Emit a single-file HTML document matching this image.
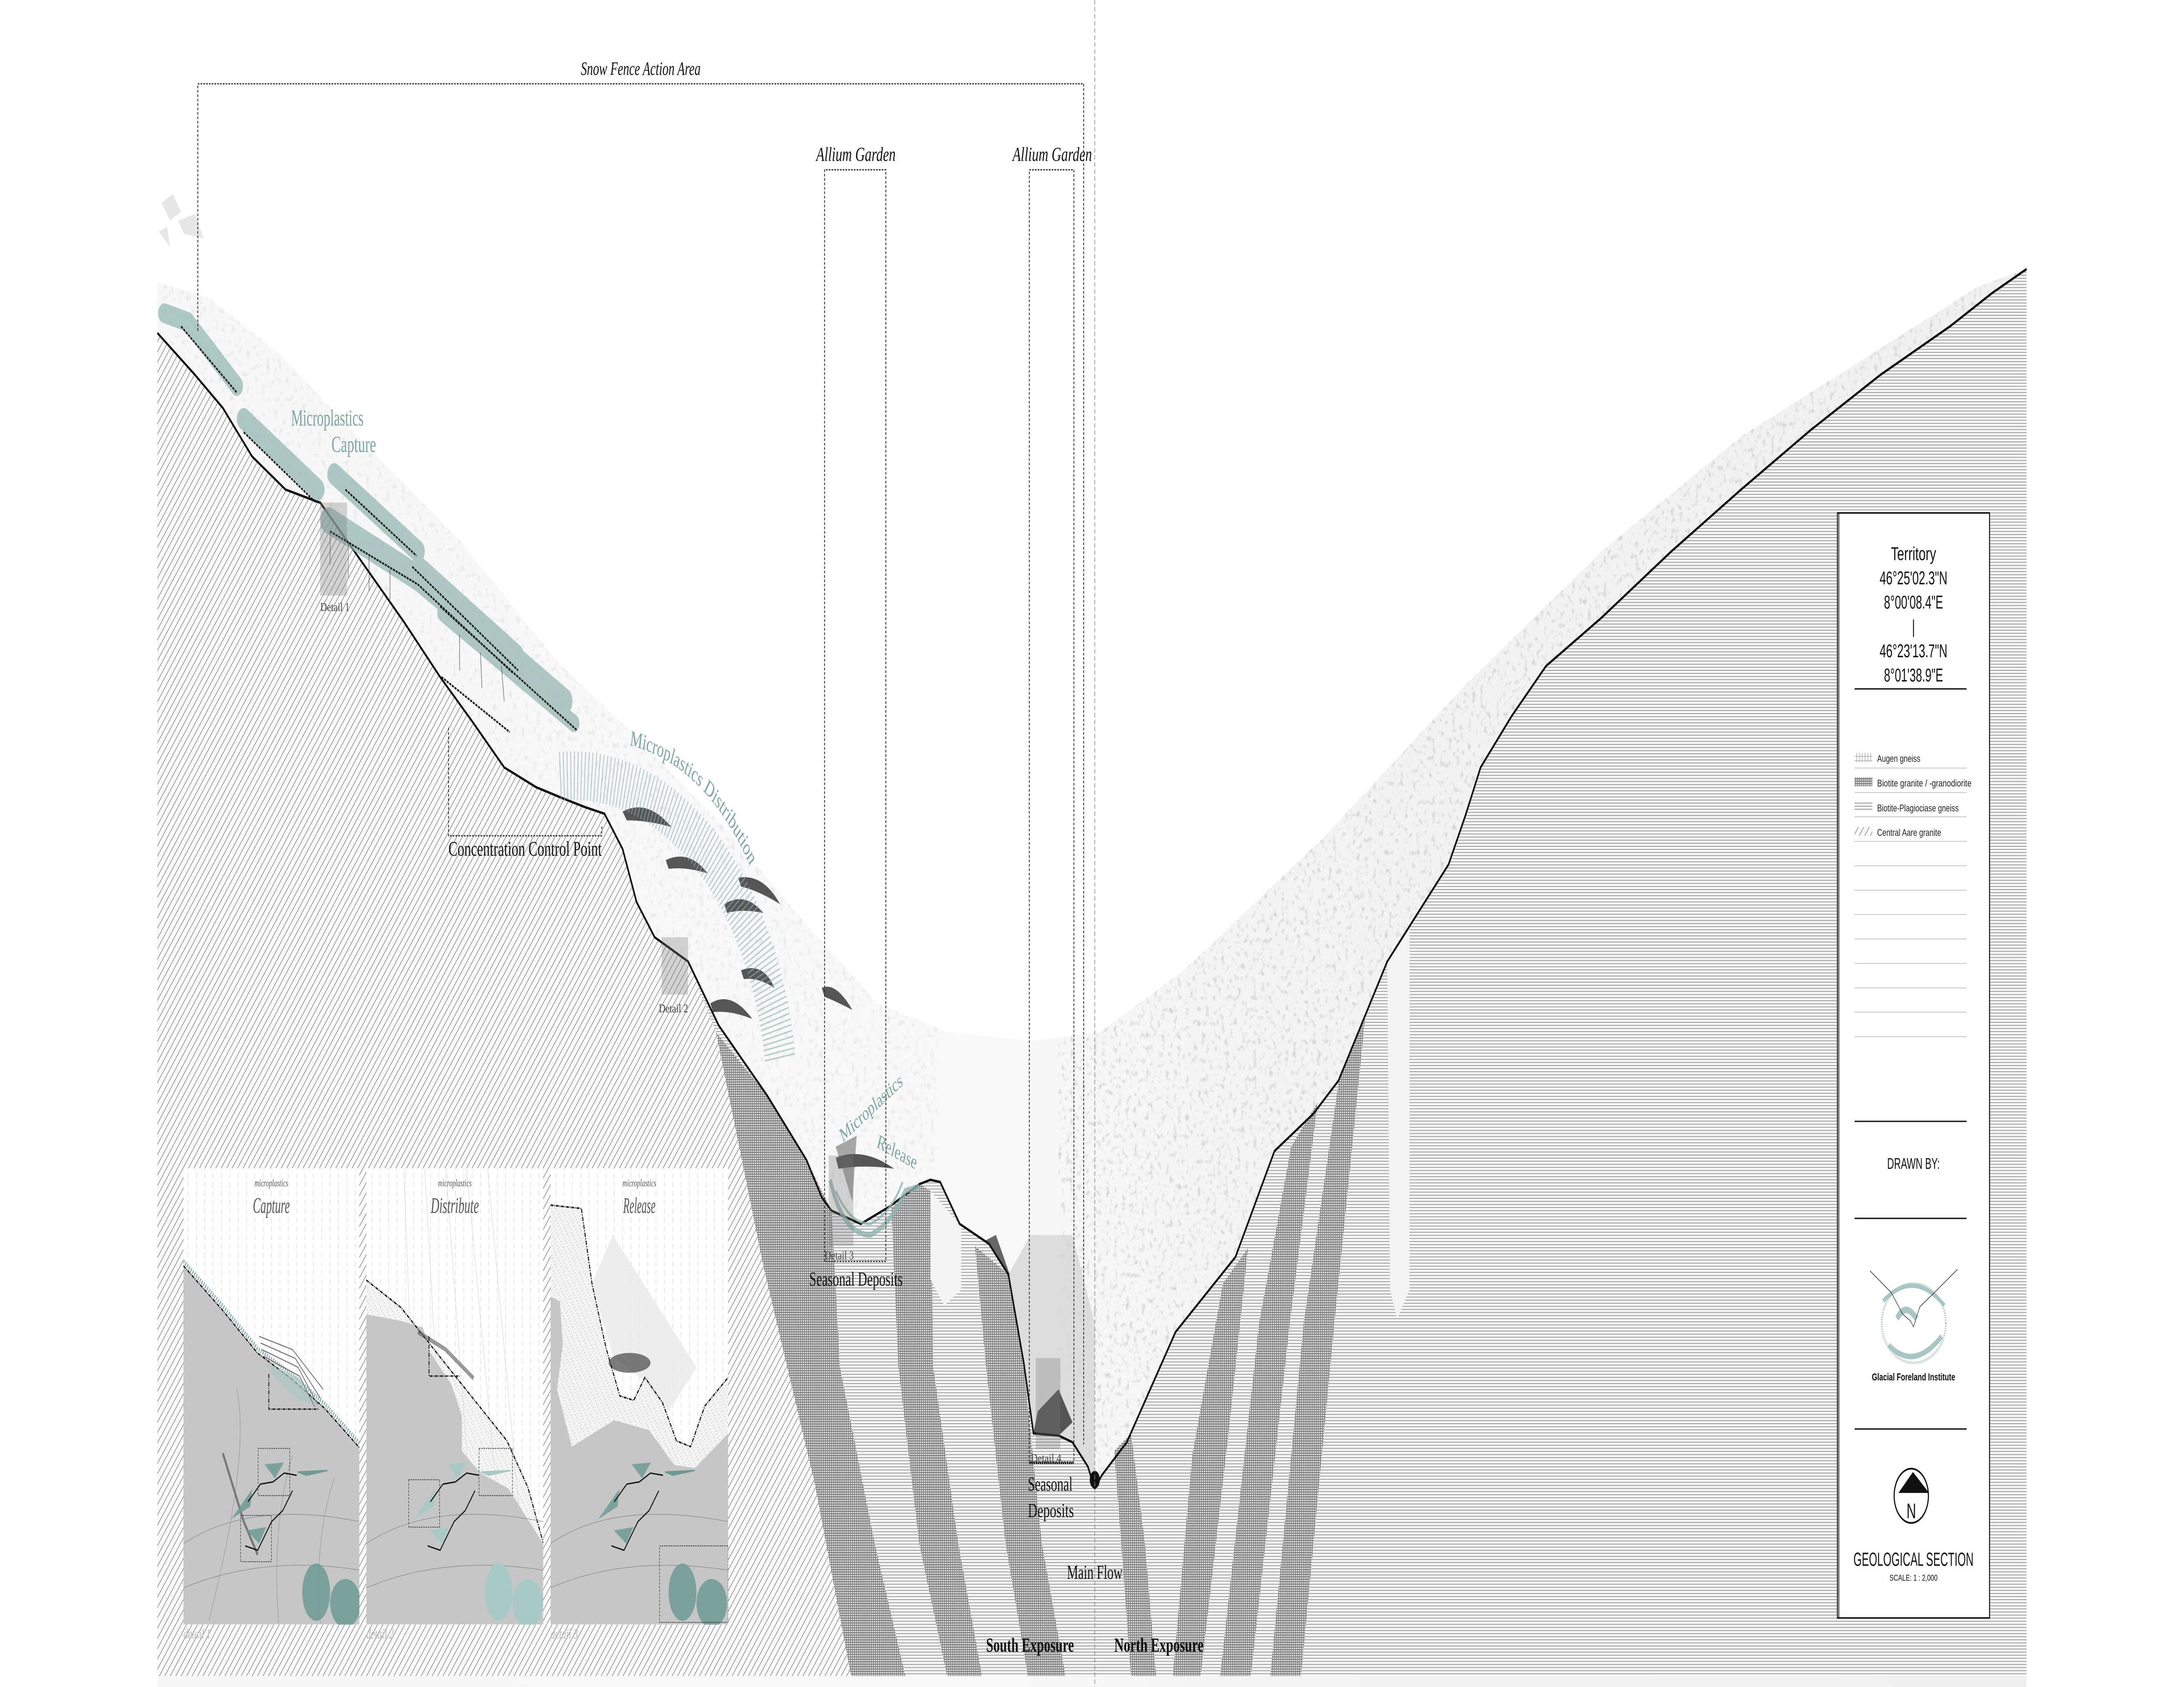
<!DOCTYPE html>
<html><head><meta charset="utf-8"><style>html,body{margin:0;padding:0;background:#fff;width:100%;height:100%;overflow:hidden}svg{display:block;width:100vw;height:100vh}</style></head>
<body>
<svg xmlns="http://www.w3.org/2000/svg" viewBox="0 0 1568 765" preserveAspectRatio="none">
<defs>
<pattern id="hatch" width="3" height="3" patternUnits="userSpaceOnUse" patternTransform="rotate(40)">
<rect width="3" height="3" fill="#fafafa"/><line x1="0" y1="0" x2="0" y2="3" stroke="#6a6a6a" stroke-width="0.6"/></pattern>
<pattern id="hl" width="4" height="1.4" patternUnits="userSpaceOnUse">
<rect width="4" height="1.4" fill="#f7f7f7"/><rect y="0" width="4" height="0.38" fill="#9a9a9a"/></pattern>
<pattern id="grid" width="1.5" height="1.1" patternUnits="userSpaceOnUse">
<rect width="1.5" height="1.1" fill="#7d7d7d"/><rect x="0.3" y="0.3" width="1.0" height="0.6" fill="#ececec"/></pattern>
<pattern id="aug" width="2" height="2" patternUnits="userSpaceOnUse">
<rect width="2" height="2" fill="#fff"/><line x1="1" y1="0" x2="1" y2="2" stroke="#888" stroke-width="0.3"/><line x1="0" y1="1" x2="2" y2="1" stroke="#888" stroke-width="0.2"/></pattern>
<pattern id="vd" width="6" height="4" patternUnits="userSpaceOnUse">
<rect width="6" height="4" fill="#fff"/><line x1="3" y1="0" x2="3" y2="2.4" stroke="#c8c8c8" stroke-width="0.25"/></pattern>
<pattern id="pl" width="3" height="1.6" patternUnits="userSpaceOnUse" patternTransform="rotate(-35)">
<rect width="3" height="1.6" fill="#f2f2f2"/><line x1="0" y1="0.8" x2="1.6" y2="0.8" stroke="#b0b0b0" stroke-width="0.2"/></pattern>
<linearGradient id="terr" x1="0" y1="0" x2="1" y2="0">
<stop offset="0" stop-color="#f7f7f7"/><stop offset="0.45" stop-color="#f8f8f8"/><stop offset="0.6" stop-color="#f3f3f3"/><stop offset="1" stop-color="#f0f0f0"/></linearGradient>
<filter id="noise" x="0" y="0" width="100%" height="100%">
<feTurbulence type="fractalNoise" baseFrequency="0.35" numOctaves="2" seed="4"/>
<feColorMatrix type="matrix" values="0 0 0 0 0.35  0 0 0 0 0.35  0 0 0 0 0.35  3.2 0 0 0 -1.75"/></filter>
<clipPath id="terrClip"><path d="M113,128 L150,135 L200,160 L260,200 L330,245 L400,300 L450,330 L520,375 L580,420 L630,455 L680,468 L740,472 L790,468 L850,440 L950,380 L1050,312 L1150,250 L1250,198 L1350,158 L1420,130 L1455,122 L1455,765 L113,765 Z"/></clipPath>
<clipPath id="p1"><rect x="131.7" y="529.7" width="126.3" height="207"/></clipPath>
<clipPath id="p2"><rect x="263" y="529.7" width="127" height="207"/></clipPath>
<clipPath id="p3"><rect x="395.3" y="529.7" width="127.5" height="207"/></clipPath>
<path id="distArc" d="M452,338 A125,125 0 0 1 548,410"/>
</defs>

<rect width="1568" height="765" fill="#fff"/>

<g fill="#e6e6e6"><path d="M116,92 L124,88 L130,96 L122,100Z"/><path d="M128,100 L140,97 L146,108 L132,106Z"/><path d="M114,105 L120,103 L122,112Z"/></g>

<path d="M113,128 L150,135 L200,160 L260,200 L330,245 L400,300 L450,330 L520,375 L580,420 L630,455 L680,468 L740,472 L790,468 L850,440 L950,380 L1050,312 L1150,250 L1250,198 L1350,158 L1420,130 L1455,122 L1455,765 L113,765 Z" fill="url(#terr)"/>
<g clip-path="url(#terrClip)">
<rect x="760" y="110" width="700" height="600" filter="url(#noise)" opacity="0.4"/>
<rect x="113" y="110" width="560" height="450" filter="url(#noise)" opacity="0.18"/>
</g>
<path d="M724,578 L735,618 L742,650 L760,651 L770,654 L781,665 L786,675 L786,600 L770,560 L740,560Z" fill="#d6d6d6" opacity="0.8"/>
<path d="M745,640 L760,630 L770,645 L760,651 L742,650Z" fill="#555"/>
<path d="M700,565 L715,560 L725,578 L712,572Z" fill="#666"/>

<path d="M113,151 L140,170 L160,185 L181,207 L205,222 L230,228 L260,255 L290,282 L316,307 L340,328 L362,348 L385,357 L404,362 L420,366 L434,369 L447,385 L457,409 L470,425 L494,436 L516,465 L551,497 L579,526 L590,543 L597,549 L618,555 L639,547 L660,537 L668,535 L675,536 L689,555 L710,564 L724,578 L735,618 L742,650 L760,651 L770,654 L781,665 L786,675 L791,669 L809,654 L844,604 L887,570 L915,522 L943,505 L961,490 L996,436 L1020,412 L1040,392 L1052,370 L1063,348 L1085,325 L1110,302 L1150,280 L1200,250 L1250,222 L1300,195 L1350,170 L1400,148 L1430,133 L1455,122 L1455,760 L113,760 Z" fill="url(#hl)"/>
<g fill="url(#grid)">
<path d="M514,468 L551,497 L579,526 L597,549 L603,620 L628,700 L650,760 L611,760 L585,673 L548,574Z"/>
<path d="M640,548 L660,537 L668,540 L670,620 L688,700 L705,760 L680,760 L660,700 L645,620Z"/>
<path d="M700,565 L724,578 L735,620 L748,700 L765,760 L738,760 L722,700 L708,620Z"/>
<path d="M800,658 L812,650 L822,700 L830,760 L812,760 L805,700Z"/>
<path d="M878,582 L896,566 L882,650 L862,760 L842,760 L856,660Z"/>
<path d="M927,520 L946,500 L926,600 L898,760 L876,760 L904,600Z"/>
<path d="M962,487 L980,462 L958,600 L934,760 L912,760 L936,600Z"/>
</g>
<path d="M668,540 L690,556 L690,585 L678,592 L668,580Z" fill="#f4f4f4"/>
<path d="M996,436 L1012,420 L1012,585 L1003,598 L998,585Z" fill="#f3f3f3"/>
<path d="M113,151 L140,170 L160,185 L181,207 L205,222 L230,228 L260,255 L290,282 L316,307 L340,328 L362,348 L385,357 L404,362 L420,366 L434,369 L447,385 L457,409 L470,425 L494,436 L514,468 L548,574 L585,673 L611,760 L113,760 Z" fill="url(#hatch)"/>

<path d="M113,151 L140,170 L160,185 L181,207 L205,222 L230,228 L260,255 L290,282 L316,307 L340,328 L362,348 L385,357 L404,362 L420,366 L434,369 L447,385 L457,409 L470,425 L494,436 L516,465 L551,497 L579,526 L590,543 L597,549 L618,555 L639,547 L660,537 L668,535 L675,536 L689,555 L710,564 L724,578 L735,618 L742,650 L760,651 L770,654 L781,665 L786,675 L791,669 L809,654 L844,604 L887,570 L915,522 L943,505 L961,490 L996,436 L1020,412 L1040,392 L1052,370 L1063,348 L1085,325 L1110,302 L1150,280 L1200,250 L1250,222 L1300,195 L1350,170 L1400,148 L1430,133 L1455,122" fill="none" stroke="#111" stroke-width="1.1" stroke-linejoin="round"/>
<ellipse cx="786" cy="671" rx="3.6" ry="4" fill="#111"/>

<g stroke="#8fb3ae" stroke-linecap="round" fill="none" opacity="0.7">
<path d="M118,142 L135,146 L170,175" stroke-width="9"/>
<path d="M175,190 L228,222" stroke-width="10"/>
<path d="M240,215 L300,250" stroke-width="10"/>
<path d="M236,236 L300,262 L372,300 L405,318" stroke-width="12"/>
<path d="M300,255 L372,296" stroke-width="7"/>
<path d="M318,278 L412,328" stroke-width="8"/>
</g>
<g stroke="#1a1a1a" stroke-width="0.9" fill="none" stroke-dasharray="1.5 0.6">
<path d="M130,148 L170,178"/><path d="M175,196 L227,228"/><path d="M248,222 L299,252"/>
<path d="M237,241 L300,265 L368,305"/><path d="M296,257 L372,304"/><path d="M316,275 L414,331"/><path d="M317,307 L366,332"/>
</g>
<g stroke="#333" stroke-width="0.4" fill="none" opacity="0.7">
<path d="M237,241 L237,256 M250,246 L250,262 M265,252 L265,268 M280,258 L280,272 M330,288 L330,304 M345,296 L346,312 M360,302 L362,318"/>
</g>
<g fill="#3a3a3a" opacity="0.85">
<path d="M447,368 Q465,362 482,375 Q465,372 450,372Z"/>
<path d="M478,390 Q495,385 508,396 Q492,393 480,394Z"/>
<path d="M530,398 Q548,396 560,410 Q545,404 532,402Z"/>
<path d="M520,410 Q535,404 548,414 Q533,412 522,414Z"/>
<path d="M532,440 Q548,436 556,448 Q544,443 534,444Z"/>
<path d="M510,455 Q525,449 540,462 Q524,458 512,459Z"/>
<path d="M590,448 Q600,445 612,458 Q600,454 592,452Z"/>
<path d="M600,525 Q620,520 642,530 Q620,528 602,530Z"/>
<path d="M600,520 L615,515 L612,545 Z" opacity="0.5"/>
</g>
<path d="M402,352 A150,150 0 0 1 560,480" fill="none" stroke="#8fb3ae" stroke-width="22" stroke-dasharray="0.7 1.8" opacity="0.6"/>
<path d="M596,535 Q605,560 625,560 Q640,555 650,540 L660,538" fill="none" stroke="#8fb3ae" stroke-width="2.5" opacity="0.8"/>
<path d="M600,540 Q610,555 625,555 Q640,550 648,536" fill="none" stroke="#8fb3ae" stroke-width="1.2" opacity="0.8"/>

<rect x="230" y="228" width="19" height="42" fill="#777" opacity="0.3" stroke="#888" stroke-width="0.3"/>
<rect x="475" y="425" width="19" height="26" fill="#777" opacity="0.3"/>
<rect x="595" y="524" width="17.7" height="41" fill="#777" opacity="0.3"/>
<rect x="743.6" y="615.8" width="17.7" height="41.4" fill="#777" opacity="0.3"/>

<g fill="none" stroke="#222" stroke-width="0.55" stroke-dasharray="1.2 0.8">
<path d="M142,150 L142,38 L778,38 L778,655"/>
<path d="M592,572 L592,77 L636,77 L636,572 L592,572"/>
<path d="M739,663 L739,77 L771,77 L771,663 L739,663"/>
<path d="M322,330 L322,379 L432,379 L432,374"/>
</g>
<path d="M739,663.5 L771,663.5" stroke="#111" stroke-width="0.9" stroke-dasharray="1 0.5"/>
<line x1="786" y1="0" x2="786" y2="765" stroke="#888" stroke-width="0.45" stroke-dasharray="2 1.2"/>

<g font-family="'Liberation Serif', serif" fill="#111">
<text x="417" y="34" font-size="8.5" font-style="italic" textLength="86" lengthAdjust="spacingAndGlyphs">Snow Fence Action Area</text>
<text x="586" y="73" font-size="9" font-style="italic" textLength="57" lengthAdjust="spacingAndGlyphs">Allium Garden</text>
<text x="727" y="73" font-size="9" font-style="italic" textLength="57" lengthAdjust="spacingAndGlyphs">Allium Garden</text>
<text x="230" y="277" font-size="5.5" fill="#444" textLength="21" lengthAdjust="spacingAndGlyphs">Detail 1</text>
<text x="322" y="388" font-size="9.5" textLength="110" lengthAdjust="spacingAndGlyphs">Concentration Control Point</text>
<text x="473" y="459" font-size="5.5" fill="#444" textLength="21" lengthAdjust="spacingAndGlyphs">Detail 2</text>
<text x="592" y="571" font-size="5.5" fill="#444" textLength="21" lengthAdjust="spacingAndGlyphs">Detail 3</text>
<text x="581" y="583" font-size="9" textLength="67" lengthAdjust="spacingAndGlyphs">Seasonal Deposits</text>
<text x="740" y="663" font-size="5.5" fill="#444" textLength="22" lengthAdjust="spacingAndGlyphs">Detail 4</text>
<text x="738" y="676" font-size="9" textLength="32" lengthAdjust="spacingAndGlyphs">Seasonal</text>
<text x="738" y="688" font-size="9" textLength="33" lengthAdjust="spacingAndGlyphs">Deposits</text>
<text x="766" y="716" font-size="9" textLength="40" lengthAdjust="spacingAndGlyphs">Main Flow</text>
<text x="708" y="749" font-size="9" font-weight="bold" textLength="63" lengthAdjust="spacingAndGlyphs">South Exposure</text>
<text x="800" y="749" font-size="9" font-weight="bold" textLength="64" lengthAdjust="spacingAndGlyphs">North Exposure</text>
</g>
<g font-family="'Liberation Serif', serif" fill="#7fa5a0">
<text x="209" y="193" font-size="10.5" textLength="52" lengthAdjust="spacingAndGlyphs">Microplastics</text>
<text x="238" y="205" font-size="10.5" textLength="32" lengthAdjust="spacingAndGlyphs">Capture</text>
<text font-size="10"><textPath href="#distArc">Microplastics Distribution</textPath></text>
<text x="605" y="518" font-size="9" transform="rotate(-31 605 518)" textLength="51" lengthAdjust="spacingAndGlyphs">Microplastics</text>
<text x="629" y="520" font-size="9" transform="rotate(20 629 520)" textLength="30" lengthAdjust="spacingAndGlyphs">Release</text>
</g>

<g clip-path="url(#p1)">
<rect x="131.7" y="529.7" width="126.3" height="207" fill="url(#vd)"/>
<path d="M131.7,574 L159.6,594 L184.8,613.5 L210,625.6 L233,638.6 L258,656.4 L258,736.6 L131.7,736.6Z" fill="#c6c6c6"/>
<path d="M131.7,574 L159.6,594 L184.8,613.5 L210,625.6 L233,638.6 L258,656.4" fill="none" stroke="#8fb3ae" stroke-width="2" stroke-dasharray="0.8 0.8" transform="translate(0,-2)"/>
<path d="M131.7,574 L159.6,594 L184.8,613.5 L210,625.6 L233,638.6 L258,656.4" fill="none" stroke="#111" stroke-width="0.7" stroke-dasharray="2 0.6 0.5 0.6"/>
<path d="M193,623 L193,639 L229,639" fill="none" stroke="#111" stroke-width="0.6" stroke-dasharray="2 0.6 0.5 0.6"/>
<g stroke="#777" stroke-width="0.5" fill="none"><path d="M186,606 L210,612 L232,630"/><path d="M187,609 L212,616 L230,634"/><path d="M188,612 L214,620 L228,637"/><path d="M189,615 L215,624 L226,638"/></g>
<path d="M190,618 Q200,628 215,635 L225,637 L215,625Z" fill="#a9c6c2" opacity="0.7"/>
<g stroke="#888" stroke-width="0.25" fill="none"><path d="M131.7,700 Q180,680 258,690"/><path d="M131.7,720 Q190,705 258,712"/><path d="M150,735 Q180,660 170,630"/><path d="M200,736 Q195,690 210,660"/><path d="M230,736 Q225,700 240,670"/></g>
<path d="M160,659 L175,690 L185,705" stroke="#777" stroke-width="1.4" fill="none"/>
<polygon points="189.9,664 203.7,663.2 197.4,670.4" fill="#6e9994" opacity="0.85"/>
<polygon points="177.2,694 191.1,692.5 186,700" fill="#6e9994" opacity="0.85"/>
<polygon points="165.9,688.9 181,675.3 179.7,683.2" fill="#6e9994" opacity="0.85"/>
<polygon points="213.8,667.5 235.3,666.8 220,669" fill="#6e9994" stroke="#6e9994" stroke-width="0.6"/>
<ellipse cx="227" cy="722" rx="10" ry="13" fill="#6e9994" opacity="0.85"/><ellipse cx="248" cy="727" rx="11" ry="11" fill="#6e9994" opacity="0.85"/>
<polyline points="178,681 187,673 196,672 204,668 213,669" fill="none" stroke="#111" stroke-width="0.6"/>
<polyline points="176,701 185,703 195,690 203,685 210,676" fill="none" stroke="#111" stroke-width="0.6"/>
<g fill="none" stroke="#333" stroke-width="0.35" stroke-dasharray="1 0.6"><rect x="185.3" y="656.8" width="22.7" height="21.4"/><rect x="172.7" y="687.2" width="22.2" height="21"/></g>
</g>
<g clip-path="url(#p2)">
<rect x="263" y="529.7" width="127" height="207" fill="url(#vd)"/>
<path d="M263,580 L288,593 L318.6,617.5 L344,637.6 L364,653.4 L379,674.5 L390,699.6 L390,736.6 L330,736.6 L300,650 L263,620Z" fill="url(#pl)" opacity="0.8"/>
<path d="M263,596 L288,599 L303.6,602 L308.6,613 L324,627.7 L331.6,642 L331.6,658 L345,668 L365,675 L380,690 L390,700 L390,736.6 L263,736.6Z" fill="#c6c6c6"/>
<g stroke="#ccc" stroke-width="0.25"><path d="M290,530 L300,700 M305,530 L320,700 M320,530 L340,700 M335,530 L360,700 M350,530 L375,700"/></g>
<path d="M263,580.5 L288,593 L318.6,617.5 L344,637.6 L364,653.4 L379,674.5 L390,699.6" fill="none" stroke="#111" stroke-width="0.7" stroke-dasharray="2 0.6 0.5 0.6"/>
<path d="M300,604 L320,612 L340,625" stroke="#555" stroke-width="2" fill="none" opacity="0.6"/>
<path d="M308,606 L308,624 L330,624" fill="none" stroke="#111" stroke-width="0.6" stroke-dasharray="2 0.6 0.5 0.6"/>
<g stroke="#888" stroke-width="0.25" fill="none"><path d="M263,700 Q310,680 390,690"/><path d="M263,720 Q320,705 390,712"/></g>
<polygon points="321.2,664 335,663.2 328.7,670.4" fill="#a9c9c7"/>
<polygon points="308.5,694 322.4,692.5 317.3,700" fill="#a9c9c7"/>
<polygon points="297.2,688.9 312.3,675.3 311,683.2" fill="#a9c9c7"/>
<polygon points="345.1,667.5 366.6,666.8 351,669" fill="#a9c9c7" stroke="#a9c9c7" stroke-width="0.6"/>
<ellipse cx="358" cy="722" rx="10" ry="13" fill="#a9c9c7"/><ellipse cx="379" cy="727" rx="11" ry="11" fill="#a9c9c7"/>
<polyline points="309,681 318,673 327,672 335,668 344,669" fill="none" stroke="#111" stroke-width="0.6"/>
<polyline points="307,701 316,703 326,690 334,685 341,676" fill="none" stroke="#111" stroke-width="0.6"/>
<g fill="none" stroke="#333" stroke-width="0.35" stroke-dasharray="1 0.6"><rect x="343.9" y="656.8" width="24" height="21.4"/><rect x="293.4" y="671" width="22.2" height="21.5"/></g>
</g>
<g clip-path="url(#p3)">
<rect x="395.3" y="529.7" width="127.5" height="207" fill="url(#vd)"/>
<path d="M395.4,546.5 L417.4,548 L425,582 L435,611 L445,633 L455,635 L463,624.6 L475.6,636 L485.7,653.4 L495.8,656 L506,637.6 L522.8,624.6 L522.8,660 L499,675 L484,672 L466,655 L441,650 L410,662 L395.3,660Z" fill="url(#pl)" opacity="0.85"/>
<path d="M425,582 L440,560 L470,590 L500,620 L480,640 L460,625 L440,615Z" fill="#e8e8e8" opacity="0.8"/>
<path d="M395.3,588 L402,590 L404,610 L400,630 L410.5,656 L441,644 L466,648.5 L484,664.3 L499,665.7 L522.8,650 L522.8,736.6 L395.3,736.6Z" fill="#c6c6c6"/>
<ellipse cx="452" cy="618" rx="15" ry="4.5" fill="#444" opacity="0.7"/>
<path d="M395.4,546.5 L417.4,548 L425,582 L435,611 L445,633 L455,635 L463,624.6 L475.6,636 L485.7,653.4 L495.8,656 L506,637.6 L522.8,624.6" fill="none" stroke="#111" stroke-width="0.7" stroke-dasharray="2 0.6 0.5 0.6"/>
<g stroke="#888" stroke-width="0.25" fill="none"><path d="M395.3,700 Q440,680 522.8,690"/><path d="M395.3,720 Q450,705 522.8,712"/></g>
<polygon points="453.5,664 467.3,663.2 461,670.4" fill="#6e9994" opacity="0.85"/>
<polygon points="440.8,694 454.7,692.5 449.6,700" fill="#6e9994" opacity="0.85"/>
<polygon points="429.5,688.9 444.6,675.3 443.3,683.2" fill="#6e9994" opacity="0.85"/>
<polygon points="477.4,667.5 498.9,666.8 483,669" fill="#6e9994" stroke="#6e9994" stroke-width="0.6"/>
<ellipse cx="490" cy="722" rx="10" ry="13" fill="#6e9994" opacity="0.85"/><ellipse cx="511" cy="727" rx="11" ry="11" fill="#6e9994" opacity="0.85"/>
<polyline points="441,681 450,673 459,672 467,668 476,669" fill="none" stroke="#111" stroke-width="0.6"/>
<polyline points="439,701 448,703 458,690 466,685 473,676" fill="none" stroke="#111" stroke-width="0.6"/>
<rect x="473.5" y="701" width="49.3" height="34.7" fill="none" stroke="#333" stroke-width="0.35" stroke-dasharray="1 0.6"/>
</g>
<g font-family="'Liberation Serif', serif" font-style="italic" fill="#555" text-anchor="middle">
<text x="194.8" y="538" font-size="4.5">microplastics</text>
<text x="194.8" y="550" font-size="10" textLength="26.5" lengthAdjust="spacingAndGlyphs">Capture</text>
<text x="326.5" y="538" font-size="4.5">microplastics</text>
<text x="326.5" y="550" font-size="10" textLength="34.6" lengthAdjust="spacingAndGlyphs">Distribute</text>
<text x="459" y="538" font-size="4.5">microplastics</text>
<text x="459" y="550" font-size="10" textLength="23.2" lengthAdjust="spacingAndGlyphs">Release</text>
</g>
<g font-family="'Liberation Serif', serif" font-style="italic" fill="#bbb" font-size="6.5">
<text x="131.7" y="743">detail 1</text><text x="263" y="743">detail 2</text><text x="395.3" y="743">detail 3</text>
</g>

<rect x="1319.2" y="232.6" width="109.2" height="501.1" fill="#fff" stroke="#111" stroke-width="0.7"/>
<line x1="1320.2" y1="232.6" x2="1320.2" y2="733.7" stroke="#111" stroke-width="0.5"/>
<g font-family="'Liberation Sans', sans-serif" fill="#111" text-anchor="middle">
<text x="1373.8" y="254" font-size="8.4" textLength="32.4" lengthAdjust="spacingAndGlyphs">Territory</text>
<text x="1373.8" y="265" font-size="8.4" textLength="48.7" lengthAdjust="spacingAndGlyphs">46°25'02.3"N</text>
<text x="1373.8" y="276" font-size="8.4" textLength="42.4" lengthAdjust="spacingAndGlyphs">8°00'08.4"E</text>
<text x="1373.8" y="287" font-size="8.4">|</text>
<text x="1373.8" y="298" font-size="8.4" textLength="48.7" lengthAdjust="spacingAndGlyphs">46°23'13.7"N</text>
<text x="1373.8" y="309" font-size="8.4" textLength="42.4" lengthAdjust="spacingAndGlyphs">8°01'38.9"E</text>
<text x="1373.8" y="530" font-size="7" textLength="37.8" lengthAdjust="spacingAndGlyphs">DRAWN BY:</text>
<text x="1373.8" y="626" font-size="4.6" font-weight="bold" textLength="59.8" lengthAdjust="spacingAndGlyphs">Glacial Foreland Institute</text>
<text x="1372.2" y="688.5" font-size="9.5">N</text>
<text x="1373.8" y="710" font-size="8.6" textLength="86.2" lengthAdjust="spacingAndGlyphs">GEOLOGICAL SECTION</text>
<text x="1373.8" y="716.8" font-size="3.9" textLength="34.5" lengthAdjust="spacingAndGlyphs">SCALE: 1 : 2,000</text>
</g>
<line x1="1331.5" y1="312.4" x2="1411.9" y2="312.4" stroke="#111" stroke-width="0.6"/>
<g stroke="#aaa" stroke-width="0.25">
<line x1="1331.5" y1="348.3" x2="1411.9" y2="348.3"/><line x1="1331.5" y1="359.4" x2="1411.9" y2="359.4"/><line x1="1331.5" y1="370.4" x2="1411.9" y2="370.4"/><line x1="1331.5" y1="381.5" x2="1411.9" y2="381.5"/><line x1="1331.5" y1="392.6" x2="1411.9" y2="392.6"/><line x1="1331.5" y1="403.7" x2="1411.9" y2="403.7"/><line x1="1331.5" y1="414.7" x2="1411.9" y2="414.7"/><line x1="1331.5" y1="425.8" x2="1411.9" y2="425.8"/><line x1="1331.5" y1="436.9" x2="1411.9" y2="436.9"/><line x1="1331.5" y1="448" x2="1411.9" y2="448"/><line x1="1331.5" y1="459" x2="1411.9" y2="459"/><line x1="1331.5" y1="470.1" x2="1411.9" y2="470.1"/>
</g>
<rect x="1331.5" y="341.5" width="12.7" height="4" fill="url(#aug)"/>
<rect x="1331.5" y="352.5" width="12.7" height="4" fill="url(#grid)"/>
<rect x="1331.5" y="363.8" width="12.7" height="4" fill="url(#hl)"/>
<rect x="1331.5" y="375" width="12.7" height="4" fill="url(#hatch)"/>
<g font-family="'Liberation Sans', sans-serif" fill="#222" font-size="4.4">
<text x="1347.7" y="345.5" textLength="31" lengthAdjust="spacingAndGlyphs">Augen gneiss</text>
<text x="1347.7" y="356.7" textLength="67.7" lengthAdjust="spacingAndGlyphs">Biotite granite / -granodiorite</text>
<text x="1347.7" y="367.9" textLength="58.5" lengthAdjust="spacingAndGlyphs">Biotite-Plagiociase gneiss</text>
<text x="1347.7" y="379" textLength="46" lengthAdjust="spacingAndGlyphs">Central Aare granite</text>
</g>
<line x1="1331.5" y1="508.5" x2="1411.9" y2="508.5" stroke="#111" stroke-width="0.6"/>
<line x1="1331.5" y1="552.5" x2="1411.9" y2="552.5" stroke="#111" stroke-width="0.6"/>
<line x1="1331.5" y1="648" x2="1411.9" y2="648" stroke="#111" stroke-width="0.6"/>
<g fill="none" stroke="#a9c6c2">
<ellipse cx="1374" cy="600" rx="23" ry="18" stroke-width="1.2" stroke-dasharray="0.5 0.6"/>
<path d="M1352,590 Q1374,575 1396,592" stroke-width="2"/>
<path d="M1356,610 Q1374,622 1394,606" stroke-width="2.5"/>
<path d="M1362,598 Q1368,590 1376,598" stroke-width="3"/>
</g>
<polyline points="1342.6,576.3 1357.8,586.1 1366,595.9 1371.8,599.1 1373.8,601.7 1378.3,592.6 1389,586 1405.4,575.6" fill="none" stroke="#333" stroke-width="0.35"/>
<circle cx="1372.2" cy="678.3" r="12.3" fill="none" stroke="#111" stroke-width="0.8"/>
<polygon points="1373.4,667.5 1363,677 1385,677" fill="#111"/>
</svg>
</body></html>
